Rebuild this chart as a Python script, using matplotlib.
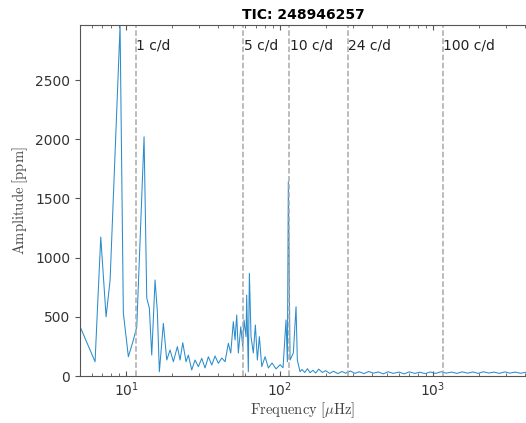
import numpy as np
import matplotlib
matplotlib.use("Agg")
import matplotlib.pyplot as plt

# Amplitude spectrum (frequency in microHz, amplitude in ppm)
freq_low = [5.02, 6.28, 6.84, 7.41, 7.87, 9.14, 9.60, 10.35, 11.16, 11.74,
            13.1, 13.64, 14.18, 14.7, 15.45, 15.99, 16.48, 17.5, 18.41, 19.35,
            20.33, 21.59, 22.48, 23.41, 24.6, 25.46, 26.79, 28.15, 29.58, 31.12,
            32.71, 34.38, 36.17, 38.0, 39.93, 42.03, 44.16, 46.39, 48.1, 50.0,
            51.3, 52.6, 53.9, 55.9, 57.6, 58.7, 60.5, 61.1, 62.6, 63.6,
            65.2, 67.5, 69.6, 71.7, 73.9, 76.6, 80.5, 84.6, 89.4, 94.9,
            100.8, 105.4, 110.2, 112.5, 114.1, 117.1, 123.0, 128.1, 130.6]
amp_low = [416, 121, 1174, 500, 810, 2960, 532, 163, 304, 416,
           2021, 659, 574, 177, 811, 543, 36, 445, 135, 220,
           121, 248, 135, 281, 121, 177, 51, 135, 79, 149,
           68, 163, 93, 169, 107, 152, 121, 276, 194, 459,
           304, 515, 194, 416, 248, 473, 332, 684, 36, 867,
           332, 194, 431, 135, 332, 79, 163, 68, 110, 60,
           95, 70, 473, 120, 1641, 135, 194, 585, 135]

freq_floor = [136, 140, 146, 152, 158, 165, 172, 180, 190, 200,
              212, 225, 240, 255, 270, 290, 310, 330, 355, 380,
              410, 440, 475, 510, 550, 600, 650, 700, 760, 820,
              890, 960, 1040, 1130, 1220, 1320, 1430, 1550, 1680, 1820,
              1970, 2130, 2310, 2500, 2710, 2930, 3170, 3430, 3720, 4030, 4200]
amp_floor = [36, 55, 30, 62, 28, 48, 25, 58, 30, 45,
             22, 40, 20, 38, 24, 42, 22, 36, 20, 38,
             24, 34, 18, 36, 22, 33, 18, 35, 22, 32,
             20, 34, 22, 36, 24, 33, 22, 35, 24, 34,
             22, 36, 25, 33, 22, 35, 24, 33, 23, 32, 26]

# cycles/day markers
cd_labels = ["1 c/d", "5 c/d", "10 c/d", "24 c/d", "100 c/d"]
cd_values = [1, 5, 10, 24, 100]

freq = np.array(freq_low + freq_floor)
amp = np.array(amp_low + amp_floor)

plt.rcParams['mathtext.fontset'] = 'cm'

fig = plt.figure(figsize=(5.26, 4.23), dpi=100)
ax = fig.add_axes([80 / 526, 47 / 423, 446 / 526, 351 / 423])

ax.plot(freq, amp, color='#2b8ccc', lw=0.75)

for lab, cd in zip(cd_labels, cd_values):
    f_uhz = cd / 86400 * 1e6
    ax.axvline(f_uhz, color='#aaaaaa', ls='--', lw=1.1)
    ax.text(f_uhz * 1.01, 2796, lab, ha='left', va='center', fontsize=10, color='#222222')

ax.set_xscale('log')
ax.set_xlim(5.01, 4036)
ax.set_ylim(0, 2965)
ax.set_yticks([0, 500, 1000, 1500, 2000, 2500])

ax.set_xlabel(r'$\mathrm{Frequency\ [\mu Hz]}$', fontsize=10.5, color='#444444', labelpad=1)
ax.set_ylabel(r'$\mathrm{Amplitude\ [ppm]}$', fontsize=10.5, color='#444444')
ax.set_title('TIC: 248946257', fontweight='bold', fontsize=10, pad=4)

ax.spines['right'].set_visible(False)
for s in ['left', 'top', 'bottom']:
    ax.spines[s].set_color('#555555')
ax.tick_params(axis='x', which='both', direction='in', top=True, colors='#555555', labelcolor='#333333', labelsize=10)
ax.tick_params(axis='y', direction='out', colors='#555555', labelcolor='#333333', labelsize=10)

fig.savefig('out.png', dpi=100)
